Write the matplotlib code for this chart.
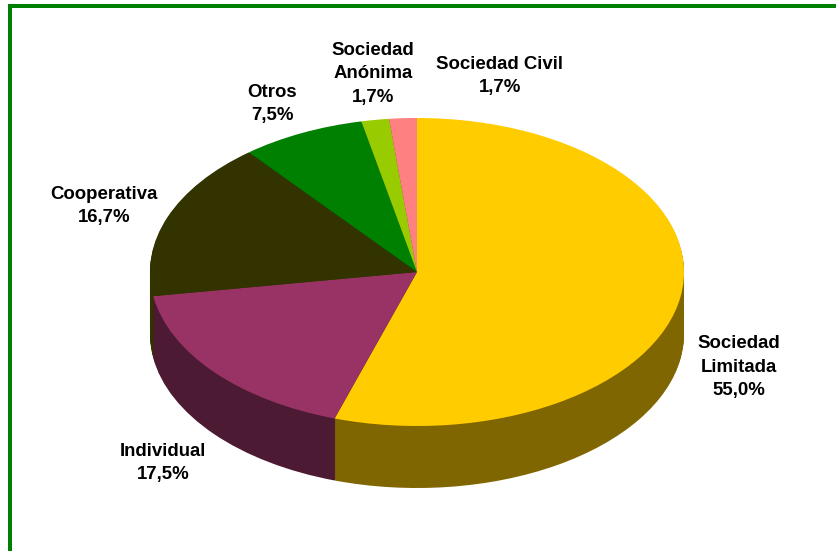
import matplotlib
matplotlib.use("Agg")
import matplotlib.pyplot as plt
from matplotlib.patches import Rectangle

# Chart data
categories = ["Sociedad\nLimitada", "Individual", "Cooperativa", "Otros", "Sociedad\nAnónima", "Sociedad Civil"]
values = [55.0, 17.5, 16.67, 7.5, 1.67, 1.67]
value_labels = ["55,0%", "17,5%", "16,7%", "7,5%", "1,7%", "1,7%"]

# Styling
top_colors = ["#FFCC00", "#993366", "#333300", "#008000", "#99CC00", "#FF8080"]
side_colors = ["#806600", "#4D1A33", "#333300", "#004000", "#4D6600", "#804040"]
label_pixels = [(739, 367), (163, 463), (104, 206), (272, 104), (373, 74), (500, 76)]

W, H = 836, 551
CX, CY, RX, RY, DEPTH = 417, 272, 267, 154, 62

fig = plt.figure(figsize=(W / 100, H / 100), dpi=100, facecolor="white")
ax = fig.add_axes([0, 0, 1, 1])


# Flat pie with the given colours, squashed later by the axes limits
def drawPie(colors, center, zorder):
    wedges, _ = ax.pie(values, colors=colors, startangle=90, counterclock=False,
                       radius=1, center=center, frame=True)
    for w in wedges:
        w.set_zorder(zorder)
        w.set_linewidth(0)


# The side wall is a stack of dark pies
for i in range(DEPTH, 0, -1):
    drawPie(side_colors, (0, -i / RY), 1 + (DEPTH - i))
drawPie(top_colors, (0, 0), DEPTH + 5)

ax.set_aspect("auto")
ax.set_xlim(-CX / RX, (W - CX) / RX)
ax.set_ylim((CY - H) / RY, CY / RY)
ax.axis("off")

# Labels
for cat, lab, (px, py) in zip(categories, value_labels, label_pixels):
    fig.text(px / W, 1 - py / H, f"{cat}\n{lab}", ha="center", va="center", family="Liberation Sans",
             fontweight="bold", fontsize=13.4, color="black", linespacing=1.48)

# Green frame, only top and left are in view
fig.add_artist(Rectangle((8 / W, 0), 4 / W, 1 - 4 / H, transform=fig.transFigure, color="#008000", lw=0))
fig.add_artist(Rectangle((8 / W, 1 - 8 / H), 1, 4 / H, transform=fig.transFigure, color="#008000", lw=0))

fig.savefig("out.png", dpi=100)
